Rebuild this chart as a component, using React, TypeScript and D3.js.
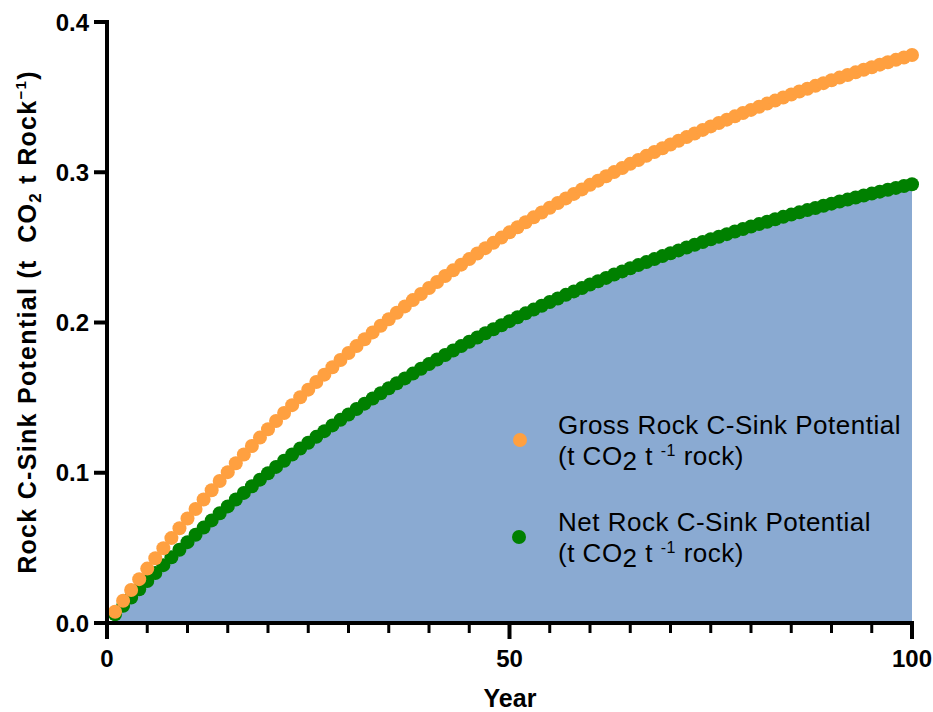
import React from "react";
import * as d3 from "d3";

const years: number[] = Array.from({ length: 100 }, (_, i) => i + 1);

const grossValues: number[] = [
  0.0075, 0.0148, 0.0220, 0.0292, 0.0362, 0.0431, 0.0498, 0.0565, 0.0631, 0.0696,
  0.0759, 0.0822, 0.0884, 0.0945, 0.1004, 0.1063, 0.1121, 0.1178, 0.1234, 0.1290,
  0.1344, 0.1398, 0.1450, 0.1502, 0.1553, 0.1604, 0.1653, 0.1702, 0.1750, 0.1797,
  0.1843, 0.1889, 0.1934, 0.1978, 0.2022, 0.2065, 0.2107, 0.2149, 0.2190, 0.2230,
  0.2270, 0.2309, 0.2347, 0.2385, 0.2422, 0.2459, 0.2495, 0.2530, 0.2565, 0.2600,
  0.2634, 0.2667, 0.2700, 0.2732, 0.2764, 0.2795, 0.2826, 0.2856, 0.2886, 0.2916,
  0.2944, 0.2973, 0.3001, 0.3028, 0.3056, 0.3082, 0.3109, 0.3135, 0.3160, 0.3185,
  0.3210, 0.3234, 0.3258, 0.3282, 0.3305, 0.3328, 0.3350, 0.3372, 0.3394, 0.3415,
  0.3436, 0.3457, 0.3477, 0.3498, 0.3517, 0.3537, 0.3556, 0.3575, 0.3593, 0.3612,
  0.3630, 0.3647, 0.3665, 0.3682, 0.3699, 0.3716, 0.3732, 0.3748, 0.3764, 0.3780,
];

const netValues: number[] = [
  0.0058, 0.0114, 0.0170, 0.0225, 0.0279, 0.0333, 0.0385, 0.0437, 0.0488, 0.0538,
  0.0587, 0.0635, 0.0683, 0.0730, 0.0776, 0.0822, 0.0866, 0.0910, 0.0954, 0.0997,
  0.1039, 0.1080, 0.1121, 0.1161, 0.1200, 0.1239, 0.1277, 0.1315, 0.1352, 0.1388,
  0.1424, 0.1460, 0.1494, 0.1529, 0.1562, 0.1596, 0.1628, 0.1660, 0.1692, 0.1723,
  0.1754, 0.1784, 0.1814, 0.1843, 0.1872, 0.1900, 0.1928, 0.1955, 0.1982, 0.2009,
  0.2035, 0.2061, 0.2086, 0.2111, 0.2136, 0.2160, 0.2184, 0.2207, 0.2230, 0.2253,
  0.2275, 0.2297, 0.2319, 0.2340, 0.2361, 0.2382, 0.2402, 0.2422, 0.2442, 0.2461,
  0.2480, 0.2499, 0.2517, 0.2536, 0.2554, 0.2571, 0.2588, 0.2606, 0.2622, 0.2639,
  0.2655, 0.2671, 0.2687, 0.2703, 0.2718, 0.2733, 0.2748, 0.2762, 0.2777, 0.2791,
  0.2805, 0.2818, 0.2832, 0.2845, 0.2858, 0.2871, 0.2884, 0.2896, 0.2908, 0.2920,
];

const xMajorTicks: number[] = [0, 50, 100];
const xMinorTicks: number[] = [5, 10, 15, 20, 25, 30, 35, 40, 45, 55, 60, 65, 70, 75, 80, 85, 90, 95];
const yTicks: number[] = [0, 0.1, 0.2, 0.3, 0.4];
const yTickLabels: string[] = ["0.0", "0.1", "0.2", "0.3", "0.4"];

const ORANGE = "#ffa040";
const GREEN = "#008000";
const FILL = "#8aaad2";

export default function App() {
  const x = d3.scaleLinear().domain([0, 100]).range([107, 912]);
  const y = d3.scaleLinear().domain([0, 0.4]).range([623, 22]);

  const pts = years.map((yr, i) => ({ yr, g: grossValues[i], n: netValues[i] }));
  const area = d3
    .area<{ yr: number; n: number }>()
    .x((d) => x(d.yr))
    .y0(y(0))
    .y1((d) => y(d.n))(pts);

  const axisY = y(0);
  const font = "'Liberation Sans', Arial, sans-serif";

  const legendUnits = (yy: number) => (
    <text x={558} y={yy} fontSize={26} letterSpacing={0.5}>
      (t CO<tspan dy={5}>2</tspan>
      <tspan dy={-5}> t </tspan>
      <tspan fontSize={16} dy={-9}>-1</tspan>
      <tspan dy={9}> rock)</tspan>
    </text>
  );

  return (
    <svg
      width={933}
      height={712}
      style={{ position: "absolute", left: 0, top: 0, background: "#fff" }}
      fontFamily={font}
    >
      <path d={area ?? ""} fill={FILL} />
      {pts.map((d) => (
        <circle key={"n" + d.yr} cx={x(d.yr)} cy={y(d.n)} r={7} fill={GREEN} />
      ))}
      {pts.map((d) => (
        <circle key={"g" + d.yr} cx={x(d.yr)} cy={y(d.g)} r={7} fill={ORANGE} />
      ))}

      {/* Y axis */}
      <line x1={x(0)} x2={x(0)} y1={y(0.4) - 2} y2={axisY + 2} stroke="#000" strokeWidth={4} />
      {yTicks.map((t, i) => (
        <g key={"yt" + t}>
          <line x1={x(0) - 13} x2={x(0)} y1={y(t)} y2={y(t)} stroke="#000" strokeWidth={4} />
          <text x={x(0) - 18} y={y(t)} dy="0.36em" textAnchor="end" fontSize={24} fontWeight="bold">
            {yTickLabels[i]}
          </text>
        </g>
      ))}

      {/* X axis */}
      <line x1={x(0) - 2} x2={x(100) + 2} y1={axisY} y2={axisY} stroke="#000" strokeWidth={4} />
      {xMajorTicks.map((t) => (
        <g key={"xt" + t}>
          <line x1={x(t)} x2={x(t)} y1={axisY} y2={axisY + 16} stroke="#000" strokeWidth={4} />
          <text x={x(t)} y={667} textAnchor="middle" fontSize={24} fontWeight="bold">
            {t}
          </text>
        </g>
      ))}
      {xMinorTicks.map((t) => (
        <line key={"xm" + t} x1={x(t)} x2={x(t)} y1={axisY} y2={axisY + 10} stroke="#000" strokeWidth={3} />
      ))}

      <text x={510} y={707} textAnchor="middle" fontSize={25} fontWeight="bold">
        Year
      </text>

      <text
        transform={`translate(36, ${322}) rotate(-90)`}
        textAnchor="middle"
        fontSize={25}
        fontWeight="bold"
        letterSpacing={1.3}
      >
        Rock C-Sink Potential (t{"\u00a0\u00a0"}CO
        <tspan fontSize={17} dy={5}>2</tspan>
        <tspan dy={-5}> t Rock</tspan>
        <tspan fontSize={15} dy={-10}>−1</tspan>
        <tspan dy={10}>)</tspan>
      </text>

      {/* Legend */}
      <circle cx={520} cy={440} r={7} fill={ORANGE} />
      <text x={558} y={434} fontSize={26} letterSpacing={0.5}>Gross Rock C-Sink Potential</text>
      {legendUnits(465)}
      <circle cx={519} cy={537} r={7} fill={GREEN} />
      <text x={558} y={531} fontSize={26} letterSpacing={0.5}>Net Rock C-Sink Potential</text>
      {legendUnits(562)}
    </svg>
  );
}
